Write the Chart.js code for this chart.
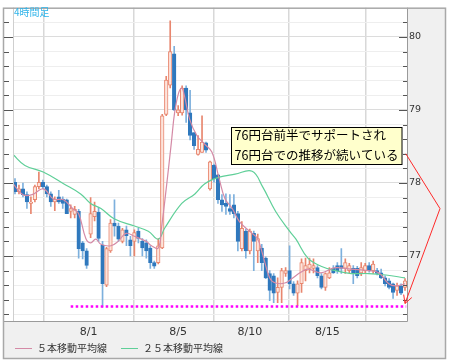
<!DOCTYPE html>
<html>
<head>
<meta charset="utf-8">
<script src="https://cdn.jsdelivr.net/npm/chart.js@4.4.1/dist/chart.umd.min.js"></script>
<style>
  html, body { margin: 0; padding: 0; background: #fff; }
  canvas { display: block; }
</style>
</head>
<body>
<canvas id="chart" width="450" height="363"></canvas>
<script>
// 4-hour candles, late July to mid August
const candleOpen = [78.01,77.88,77.92,77.84,77.72,77.77,77.95,78.01,77.95,77.85, 77.74,77.81,77.78,77.77,77.61,77.57,77.61,77.18,77.07,77.30,
  77.54,77.60,77.15,76.60,77.07,77.45,77.41,77.20,77.36,77.22, 77.20,77.34,77.20,77.18,77.11,76.91,76.91,77.11,78.94,79.34,
  79.77,78.96,78.96,79.30,78.96,78.69,78.39,78.42,78.55,77.92, 78.24,78.11,77.77,77.72,77.65,77.70,77.58,77.10,77.34,77.07,
  77.31,77.07,77.11,76.97,76.76,76.73,76.50,76.57,76.76,76.80, 76.62,76.49,76.62,76.80,76.83,76.83,76.84,76.73,76.57,76.70,
  76.83,76.87,76.87,76.83,76.80,76.83,76.83,76.77,76.80,76.87, 76.80,76.80,76.77,76.70,76.66,76.62,76.53,76.59,76.57];
const candleHigh = [78.06,77.97,78.00,77.88,77.81,77.97,78.15,78.04,77.97,77.88, 77.81,77.90,77.81,77.78,77.70,77.68,77.64,77.20,77.10,77.80,
  77.74,77.66,77.20,77.12,77.50,77.77,77.45,77.38,77.41,77.27, 77.36,77.38,77.24,77.22,77.14,76.93,77.24,78.94,79.46,80.22,
  79.87,79.06,79.33,79.33,79.27,78.69,78.65,78.92,78.56,78.30, 78.26,78.12,77.84,77.85,77.84,77.84,77.61,77.47,77.37,77.37,
  77.34,77.30,77.16,76.99,76.80,76.76,76.70,76.83,76.84,77.14, 76.65,76.66,76.96,76.97,76.97,76.96,76.87,76.76,76.77,76.84,
  76.87,76.91,77.10,76.96,76.90,76.87,76.86,76.91,76.90,76.91, 76.93,76.83,76.82,76.73,76.69,76.63,76.63,76.62,76.69];
const candleLow = [77.85,77.85,77.81,77.65,77.58,77.74,77.92,77.92,77.81,77.68, 77.62,77.72,77.65,77.58,77.52,77.52,76.97,76.96,76.83,77.25,
  77.48,77.20,76.30,76.58,77.05,77.27,77.20,77.18,77.14,77.00, 77.00,77.18,77.00,76.97,76.83,76.83,76.89,77.10,78.92,79.30,
  78.99,78.92,78.93,78.83,78.59,78.46,78.38,78.42,78.42,77.90, 78.01,77.72,77.61,77.57,77.57,77.52,77.07,77.07,76.97,77.03,
  76.80,76.91,76.80,76.69,76.39,76.36,76.36,76.36,76.72,76.55, 76.46,76.32,76.50,76.66,76.77,76.77,76.70,76.55,76.53,76.69,
  76.76,76.76,76.76,76.76,76.77,76.62,76.70,76.73,76.77,76.78, 76.76,76.74,76.69,76.59,76.55,76.42,76.46,76.47,76.53];
const candleClose = [77.88,77.92,77.84,77.74,77.74,77.95,78.01,77.95,77.85,77.74, 77.78,77.74,77.72,77.58,77.65,77.64,77.10,77.07,76.87,77.58,
  77.61,77.24,76.62,77.10,77.45,77.41,77.23,77.36,77.28,77.14, 77.32,77.24,77.11,77.07,76.91,76.86,77.14,78.92,79.41,79.80,
  79.00,79.00,79.30,79.00,78.65,78.51,78.46,78.56,78.45,78.29, 78.06,77.77,77.70,77.68,77.61,77.58,77.20,77.38,77.07,77.34,
  77.20,77.24,76.91,76.70,76.53,76.49,76.57,76.80,76.80,76.62, 76.49,76.62,76.91,76.87,76.89,76.87,76.73,76.57,76.76,76.77,
  76.77,76.80,76.83,76.91,76.87,76.77,76.73,76.84,76.87,76.80, 76.89,76.76,76.70,76.62,76.57,76.50,76.59,76.49,76.66];

// moving averages (bar position, price)
const ma5X = [-0.5, 2, 4.3, 7.1, 9.7, 12.2, 14.7, 16, 17.8, 19, 20.3, 21.6, 24.1, 25.9, 27.9, 30, 33, 34.3, 36, 36.8,
  38.1, 39.3, 40.1, 41.1, 41.9, 42.6, 43.9, 45.7, 47.7, 49.5, 51.3, 52.8, 54.6, 56.4, 58.9, 60.9, 62.2, 64, 65.5, 67.8,
  69.8, 71.6, 73.6, 76.9, 80.5, 84.5, 88.8, 91.4, 93.9, 95.7, 98];
const ma5Y = [77.99, 77.84, 77.84, 77.92, 77.78, 77.77, 77.64, 77.58, 77.24, 77.18, 77.23, 77.16, 77.14, 77.20, 77.31, 77.27, 77.20, 77.14, 77.11, 77.38,
  77.97, 78.56, 78.96, 79.23, 79.30, 79.19, 78.87, 78.65, 78.53, 78.42, 78.06, 77.78, 77.65, 77.47, 77.34, 77.24, 77.03, 76.70, 76.63, 76.63,
  76.70, 76.77, 76.82, 76.77, 76.84, 76.82, 76.80, 76.77, 76.62, 76.59, 76.62];
const ma25X = [-0.5, 2.5, 7.1, 12.2, 16.5, 19, 21.6, 24.9, 30, 33.5, 36, 37.6, 41.9, 45.2, 47.7, 51.3, 55.3, 59.6, 62.2, 65.5,
  69, 70.6, 73.6, 76.9, 80.5, 84.5, 88.8, 93.2, 98];
const ma25Y = [78.39, 78.24, 78.15, 77.99, 77.85, 77.72, 77.65, 77.51, 77.41, 77.34, 77.23, 77.38, 77.72, 77.85, 77.99, 78.08, 78.12, 78.16, 77.95, 77.61,
  77.34, 77.23, 76.97, 76.86, 76.80, 76.76, 76.76, 76.74, 76.70];

const dateTickPos = [18.5, 41, 59, 78.5];
const dateLabels = ["8/1", "8/5", "8/10", "8/15"];
const seriesNames = ["５本移動平均線", "２５本移動平均線"];

const supportLevel = 76.31;
const supportFrom = 14;
const supportTo = 98.3;

const calloutLines = ["76円台前半でサポートされ", "76円台での推移が続いている"];
const calloutX = 54.3;
const calloutTop = 78.76;
const arrowFrom = 78.4;
const arrowTo = 76.35;

const UP_FILL = "#fde4dc", UP_LINE = "#e8866e";
const DOWN_FILL = "#2f78bd", DOWN_WICK = "#7db0dd";
const CJK = "'Noto Sans CJK JP', sans-serif";

const idx = candleOpen.map((v, i) => i);
const isUp = idx.map((i) => candleClose[i] >= candleOpen[i]);

function pts(xs, ys) {
  return xs.map((x, k) => ({ x: x, y: ys[k] }));
}

const decor = {
  id: "decor",
  beforeDraw(chart) {
    const { ctx, chartArea: a } = chart;
    ctx.save();
    ctx.fillStyle = "#fff";
    ctx.fillRect(0, 0, chart.width, chart.height);
    ctx.fillStyle = "#f0f0f0";
    ctx.fillRect(a.right, a.top, chart.width - 5 - a.right, 354 - a.top);
    ctx.fillRect(3, a.bottom, chart.width - 8, 358 - a.bottom);
    ctx.restore();
  },
  afterDraw(chart) {
    const { ctx, chartArea: a } = chart;
    const xs = chart.scales.x, ys = chart.scales.y;
    ctx.save();

    // plot borders and outer frame
    ctx.lineWidth = 1;
    ctx.strokeStyle = "#cfcfcf";
    ctx.beginPath();
    ctx.moveTo(a.left + 0.5, a.top);
    ctx.lineTo(a.left + 0.5, a.bottom);
    ctx.stroke();
    ctx.strokeStyle = "#9a9a9a";
    ctx.beginPath();
    ctx.moveTo(a.right + 0.5, a.top);
    ctx.lineTo(a.right + 0.5, a.bottom + 0.5);
    ctx.lineTo(3, a.bottom + 0.5);
    ctx.stroke();
    ctx.lineWidth = 1.5;
    ctx.strokeStyle = "#a8a8a8";
    ctx.strokeRect(3.5, a.top + 0.5, chart.width - 8, 358 - a.top);

    // tick marks, right axis inward and left edge
    ctx.lineWidth = 1;
    ctx.strokeStyle = "#555";
    ys.ticks.forEach((t) => {
      const py = Math.round(ys.getPixelForValue(t.value)) + 0.5;
      const major = Math.abs(t.value - Math.round(t.value)) < 1e-6;
      ctx.beginPath();
      ctx.moveTo(a.right - (major ? 8 : 4), py);
      ctx.lineTo(a.right, py);
      ctx.moveTo(4, py);
      ctx.lineTo(4 + (major ? 9 : 5), py);
      ctx.stroke();
    });

    // callout
    ctx.font = "12.5px " + CJK;
    const bx = Math.round(xs.getPixelForValue(calloutX)) + 0.5;
    const by = Math.round(ys.getPixelForValue(calloutTop)) + 0.5;
    const bw = a.right - 5 - bx;
    ctx.fillStyle = "#ffffcc";
    ctx.fillRect(bx, by, bw, 37);
    ctx.strokeStyle = "#000";
    ctx.strokeRect(bx, by, bw, 37);
    ctx.fillStyle = "#000";
    ctx.textBaseline = "middle";
    ctx.textAlign = "left";
    calloutLines.forEach((s, k) => ctx.fillText(s, bx + 3, by + 8 + k * 20));

    // arrow to the support line
    const p0 = { x: xs.getPixelForValue(98.2), y: ys.getPixelForValue(arrowFrom) };
    const p2 = { x: a.right - 2, y: ys.getPixelForValue(arrowTo) };
    const p1 = { x: chart.width - 10, y: (p0.y + p2.y) / 2 - 20 };
    ctx.strokeStyle = "#ff2a2a";
    ctx.lineWidth = 1;
    ctx.beginPath();
    ctx.moveTo(p0.x, p0.y);
    ctx.lineTo(p1.x, p1.y);
    ctx.lineTo(p2.x, p2.y);
    const ang = Math.atan2(p2.y - p1.y, p2.x - p1.x);
    [-0.5, 0.5].forEach((d) => {
      ctx.moveTo(p2.x, p2.y);
      ctx.lineTo(p2.x - 9 * Math.cos(ang + d), p2.y - 9 * Math.sin(ang + d));
    });
    ctx.stroke();

    // title
    ctx.font = "10px " + CJK;
    ctx.fillStyle = "#2fb4ea";
    ctx.fillText("4時間足", 14, 12);

    // legend
    ctx.font = "10px " + CJK;
    let lx = 15;
    const ly = 348.5;
    [0, 1].forEach((k) => {
      const ds = chart.data.datasets[k];
      ctx.strokeStyle = ds.borderColor;
      ctx.beginPath();
      ctx.moveTo(lx, ly);
      ctx.lineTo(lx + 17, ly);
      ctx.stroke();
      ctx.fillStyle = "#333";
      ctx.fillText(ds.label, lx + 22, ly);
      lx += 22 + ctx.measureText(ds.label).width + 14;
    });

    ctx.restore();
  },
};

new Chart(document.getElementById("chart"), {
  type: "bar",
  data: {
    datasets: [
      {
        type: "line",
        label: seriesNames[0],
        data: pts(ma5X, ma5Y),
        borderColor: "#d48aa6",
        borderWidth: 1.2,
        pointRadius: 0,
        tension: 0.4,
        order: 0,
      },
      {
        type: "line",
        label: seriesNames[1],
        data: pts(ma25X, ma25Y),
        borderColor: "#5fcf98",
        borderWidth: 1.2,
        pointRadius: 0,
        tension: 0.4,
        order: 0,
      },
      {
        type: "line",
        label: "support",
        data: [{ x: supportFrom, y: supportLevel }, { x: supportTo, y: supportLevel }],
        borderColor: "#ff00ff",
        borderWidth: 2.5,
        borderDash: [2.5, 2.5],
        pointRadius: 0,
        order: 0,
      },
      {
        label: "body",
        data: idx.map((i) => ({ x: i, y: [candleOpen[i], candleClose[i]] })),
        backgroundColor: isUp.map((u) => (u ? UP_FILL : DOWN_FILL)),
        borderColor: isUp.map((u) => (u ? UP_LINE : DOWN_FILL)),
        borderWidth: 1,
        borderSkipped: false,
        barThickness: 3.6,
        minBarLength: 1,
        grouped: false,
        order: 1,
      },
      {
        label: "wick",
        data: idx.map((i) => ({ x: i, y: [candleLow[i], candleHigh[i]] })),
        backgroundColor: isUp.map((u) => (u ? UP_LINE : DOWN_WICK)),
        barThickness: 1,
        grouped: false,
        order: 2,
      },
    ],
  },
  options: {
    responsive: false,
    animation: false,
    devicePixelRatio: 1,
    layout: { padding: { left: 13, right: 5, top: 4, bottom: 0 } },
    plugins: { legend: { display: false }, tooltip: { enabled: false } },
    scales: {
      x: {
        type: "linear",
        min: -0.5,
        max: 98.5,
        offset: false,
        afterBuildTicks: (scale) => {
          scale.ticks = dateTickPos.map((v) => ({ value: v }));
        },
        afterFit: (scale) => {
          scale.height = 42;
        },
        ticks: {
          autoSkip: false,
          maxRotation: 0,
          padding: 5,
          color: "#333",
          font: { family: "'DejaVu Sans'", size: 11 },
          callback: (v, i) => dateLabels[i],
        },
        grid: { color: "#d8d8d8", lineWidth: 1.5, drawTicks: false },
        border: { display: false },
      },
      y: {
        position: "right",
        min: 76.11,
        max: 80.4,
        afterBuildTicks: (scale) => {
          const t = [];
          for (let v = 76.2; v < 80.3; v += 0.2) t.push({ value: Math.round(v * 10) / 10 });
          scale.ticks = t;
        },
        afterFit: (scale) => {
          scale.width = 38;
        },
        ticks: {
          padding: 2,
          color: "#333",
          font: { family: "'DejaVu Sans'", size: 9.5 },
          callback: (v) => (Math.abs(v - Math.round(v)) < 1e-6 ? String(Math.round(v)) : ""),
        },
        grid: {
          drawTicks: false,
          color: (c) => (c.tick && Math.abs(c.tick.value - Math.round(c.tick.value)) < 1e-6 ? "#dcdcdc" : "#eeeeee"),
        },
        border: { display: false },
      },
    },
  },
  plugins: [decor],
});
</script>
</body>
</html>
